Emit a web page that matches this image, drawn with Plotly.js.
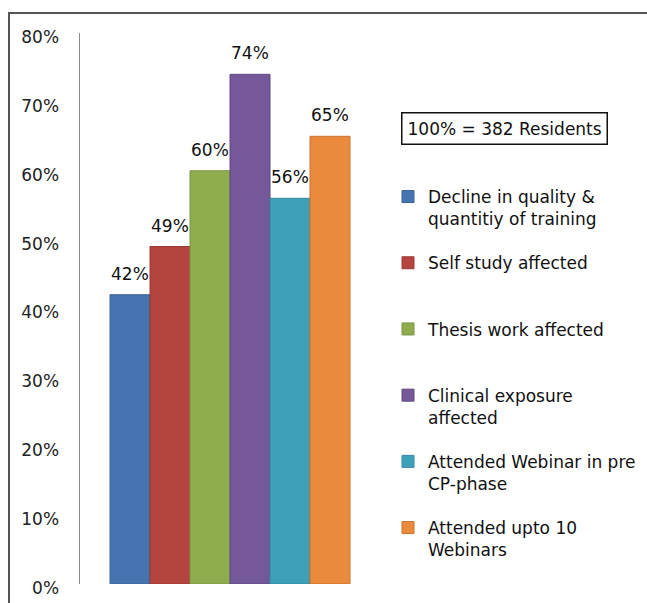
<!DOCTYPE html>
<html>
<head>
<meta charset="utf-8">
<script src="https://cdn.plot.ly/plotly-3.0.1.min.js"></script>
<style>
  html, body { margin: 0; padding: 0; background: #fff; }
  #wrap { position: relative; width: 647px; height: 603px; }
  #chart { width: 647px; height: 603px; }
  #frame { position: absolute; left: 8px; top: 12px; right: 0; bottom: 0;
           border-left: 2px solid #555; border-top: 2px solid #555; pointer-events: none; }
</style>
</head>
<body>
<div id="wrap">
  <div id="chart"></div>
  <div id="frame"></div>
</div>
<script>
// Data
const seriesNames = [
  "Decline in quality &<br>quantitiy of training",
  "Self study affected<br> ",
  "Thesis work affected<br> ",
  "Clinical exposure<br>affected",
  "Attended Webinar in pre<br>CP-phase",
  "Attended upto 10<br>Webinars"
];
const categories = ["Decline", "Self study", "Thesis", "Clinical", "Webinar pre CP", "Upto 10 Webinars"];
const values = [42, 49, 60, 74, 56, 65];
const colors = ["#4674B0", "#B5443F", "#8FAD4F", "#74589A", "#3FA0BA", "#E98A3C"];
const lineColors = ["#3A6299", "#9A3834", "#7A9642", "#604A82", "#348AA0", "#C8742F"];
const yTicks = [0, 10, 20, 30, 40, 50, 60, 70, 80];
const yTickText = yTicks.map(v => v + "%");
const boxNote = "100% = 382 Residents";

const FONT = "DejaVu Sans, Verdana, sans-serif";
const ML = 80, MR = 0, W = 647;
const PW = W - ML - MR;          // paper width in px
const px = v => (v - ML) / PW;   // px -> paper x

const traces = categories.map((c, i) => ({
  type: "bar",
  x: [c],
  y: [values[i]],
  name: seriesNames[i],
  legendgroup: "g" + i,
  marker: { color: colors[i], line: { color: lineColors[i], width: 1 } },
  width: 1,
  hoverinfo: "skip"
}));

const annotations = categories.map((c, i) => ({
  x: c, y: values[i], xref: "x", yref: "y",
  text: values[i] + "%",
  showarrow: false, yanchor: "bottom", yshift: 9,
  font: { family: FONT, size: 17, color: "#111" }
}));
annotations.push({
  xref: "paper", yref: "paper", x: px(504), y: (584 - 128) / 551,
  xanchor: "center", yanchor: "middle",
  text: boxNote, showarrow: false,
  bordercolor: "#111", borderwidth: 1.5, borderpad: 5,
  font: { family: FONT, size: 17, color: "#111" }
});

const layout = {
  width: W, height: 603,
  margin: { l: ML, r: MR, t: 33, b: 19 },
  paper_bgcolor: "#fff", plot_bgcolor: "#fff",
  barmode: "overlay",
  bargap: 0,
  showlegend: true,
  legend: {
    x: px(388), y: 0.735, xanchor: "left", yanchor: "top",
    valign: "top",
    font: { family: FONT, size: 17, color: "#111" },
    traceorder: "grouped", tracegroupgap: 19,
    bgcolor: "rgba(0,0,0,0)", borderwidth: 0
  },
  xaxis: {
    domain: [0, 300 / PW],
    type: "category", categoryorder: "array", categoryarray: categories,
    range: [-1.25, 6.25], showticklabels: false, showline: false,
    showgrid: false, zeroline: false, ticks: "", fixedrange: true
  },
  yaxis: {
    range: [0, 80], tickmode: "array", tickvals: yTicks, ticktext: yTickText,
    showline: true, linecolor: "#8a8a8a", linewidth: 1.5,
    showgrid: false, zeroline: false, ticks: "",
    ticklabelstandoff: 16, ticklabelshift: 4,
    tickfont: { family: FONT, size: 17, color: "#222" }
  },
  annotations: annotations
};

Plotly.newPlot("chart", traces, layout, { displayModeBar: false, staticPlot: true });
</script>
</body>
</html>
